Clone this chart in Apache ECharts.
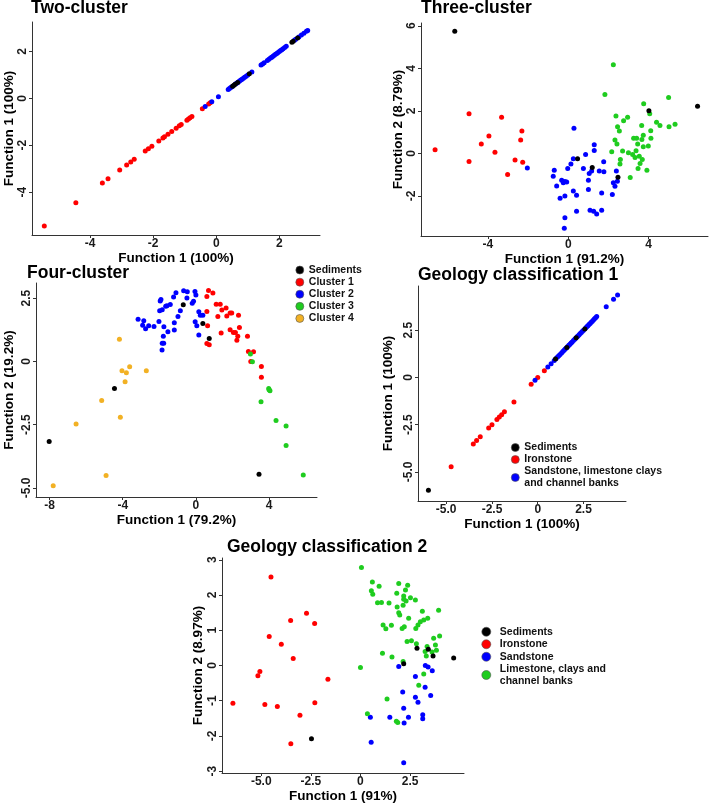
<!DOCTYPE html>
<html>
<head>
<meta charset="utf-8">
<script src="https://cdn.jsdelivr.net/npm/echarts@6/dist/echarts.min.js"></script>
<style>html,body{margin:0;padding:0;background:#fff}#c{width:711px;height:804px}</style>
</head>
<body>
<div id="c"></div>
<script>
// ---------- Panel 1: Two-cluster (Function 1 vs Function 1) ----------
const twoRed = [-5.45,-4.45,-3.61,-3.43,-3.06,-2.84,-2.71,-2.60,-2.25,-2.15,-2.04,-1.82,-1.69,-1.64,-1.53,-1.41,-1.27,-1.17,-1.11,-0.93,-0.88,-0.83,-0.77,-0.44,-0.24,-0.19];
const twoBlue = [-0.35,-0.14,0.07,0.38,0.42,0.46,0.50,0.62,0.66,0.70,0.74,0.78,0.82,0.86,0.90,0.95,1.00,1.13,1.42,1.47,1.52,1.62,1.67,1.72,1.76,1.80,1.84,1.88,1.92,1.96,2.00,2.04,2.08,2.12,2.17,2.22,2.48,2.52,2.62,2.70,2.78,2.86,2.90];
const twoBlack = [0.52,0.56,0.60,0.68,1.05,2.40,2.44,2.58];

// ---------- Panel 2: Three-cluster ----------
const threeBlack = [[-5.65,5.74],[0.46,-0.25],[1.19,-0.66],[2.47,-1.12],[4.01,2.01],[6.43,2.22]];
const threeRed = [[-6.63,0.17],[-4.94,1.86],[-4.94,-0.38],[-4.33,0.44],[-3.95,0.82],[-3.65,0.05],[-3.32,1.70],[-3.02,-0.99],[-2.65,-0.31],[-2.37,0.63],[-2.31,1.05],[-2.27,-0.41]];
const threeBlue = [[-2.04,-0.68],[0.28,1.18],[-0.70,-0.79],[-0.75,-1.07],[-0.58,-1.53],[-0.41,-2.11],[-0.33,-1.26],[-0.25,-1.38],[-0.17,-1.32],[-0.08,-1.34],[-0.03,-0.71],[0.13,-0.50],[0.25,-0.25],[-0.17,-2.00],[-0.17,-3.02],[-0.20,-3.51],[0.25,-1.76],[0.41,-1.97],[0.41,-2.72],[0.86,-0.05],[0.75,-0.71],[1.00,-1.26],[1.04,-0.94],[1.16,-0.83],[1.29,0.41],[1.29,0.14],[1.00,-1.70],[1.08,-2.67],[1.26,-2.72],[1.41,-2.85],[1.54,-0.83],[1.66,-1.86],[1.66,-2.67],[1.76,-0.39],[1.77,-0.86],[2.19,-1.93],[2.24,-1.38],[2.32,-1.54],[2.39,-0.83],[2.44,-1.31]];
const threeGreen = [[2.24,4.17],[1.82,2.77],[2.16,0.08],[2.32,0.63],[2.37,1.76],[2.42,0.44],[2.45,1.26],[2.54,1.05],[2.57,-0.50],[2.59,-0.28],[2.75,1.54],[2.70,0.11],[2.95,1.70],[2.99,0.03],[3.08,-1.13],[3.20,-0.05],[3.25,0.71],[3.32,-0.19],[3.37,0.13],[3.40,0.71],[3.45,0.44],[3.47,-0.71],[3.53,-0.13],[3.57,-0.47],[3.65,1.31],[3.66,0.66],[3.75,2.33],[3.73,0.86],[3.73,0.31],[3.68,-0.28],[3.91,-0.79],[3.98,0.35],[4.05,1.86],[4.10,1.07],[4.11,0.71],[4.39,1.46],[4.56,1.31],[4.99,2.63],[5.01,1.26],[5.31,1.37]];

// ---------- Panel 3: Four-cluster ----------
const fourBlack = [[-8.02,-3.17],[-4.45,-1.07],[-0.69,2.24],[0.38,1.50],[0.73,0.91],[3.45,-4.46]];
const fourC1 = [[0.60,2.57],[0.69,2.80],[0.93,2.70],[0.60,1.97],[0.64,1.41],[0.60,0.71],[0.73,0.66],[1.11,2.26],[1.20,1.78],[1.33,2.26],[1.38,1.12],[1.42,2.03],[1.65,2.11],[1.69,1.80],[1.87,1.91],[1.96,1.91],[2.33,1.83],[2.38,1.34],[1.87,1.25],[2.05,1.14],[2.16,1.14],[2.24,0.84],[2.29,0.99],[2.82,0.99],[2.87,0.39],[3.15,0.38],[3.00,0.00],[3.58,-0.20],[3.58,-0.63]];
const fourC2 = [[-3.16,1.67],[-2.91,1.43],[-2.85,1.61],[-2.75,1.29],[-2.58,1.41],[-2.29,1.38],[-2.02,1.58],[-1.98,2.00],[-1.95,2.39],[-1.91,2.45],[-1.84,2.04],[-1.75,1.37],[-1.78,0.99],[-1.84,0.72],[-1.85,0.45],[-1.76,0.72],[-1.65,2.18],[-1.58,2.20],[-1.53,1.17],[-1.40,2.25],[-1.22,2.55],[-1.18,1.53],[-1.18,1.24],[-1.09,2.71],[-0.98,1.78],[-0.85,2.00],[-0.67,2.79],[-0.49,2.51],[-0.47,2.75],[-0.20,2.30],[-0.13,2.38],[-0.05,2.76],[0.00,2.63],[-0.04,1.57],[0.05,1.41],[0.16,1.96],[0.16,1.04],[0.24,1.83],[0.38,1.83]];
const fourC3 = [[2.98,0.29],[3.09,-0.01],[3.98,-1.07],[4.05,-1.16],[4.00,-1.12],[3.56,-1.59],[4.38,-2.34],[4.93,-2.55],[4.93,-3.32],[5.87,-4.49]];
const fourC4 = [[-7.80,-4.92],[-6.55,-2.47],[-5.15,-1.55],[-4.91,-4.51],[-4.18,0.88],[-4.13,-2.21],[-4.04,-0.37],[-3.87,-0.80],[-3.80,-0.45],[-3.62,-0.21],[-2.71,-0.37]];

// ---------- Panel 4: Geology classification 1 (Function 1 vs Function 1) ----------
const geo1Black = [-5.97,0.97,1.59,2.10,2.57];
const geo1Red = [-4.73,-3.52,-3.34,-3.14,-2.68,-2.50,-2.23,-2.10,-1.97,-1.82,-1.30,-0.36,0.00,0.36];
const geo1Blue = [-0.15,0.55,0.73,0.90,1.00,1.08,1.15,1.22,1.30,1.37,1.44,1.50,1.56,1.64,1.70,1.76,1.82,1.88,1.95,2.02,2.06,2.15,2.20,2.26,2.32,2.38,2.44,2.50,2.62,2.68,2.74,2.80,2.86,2.92,2.98,3.04,3.10,3.16,3.22,3.74,4.14,4.36];

// ---------- Panel 5: Geology classification 2 ----------
const geo2Black = [[-2.47,-2.08],[2.18,0.05],[2.85,0.49],[3.42,0.46],[3.66,0.27],[4.70,0.21]];
const geo2Red = [[-6.43,-1.07],[-5.17,-0.29],[-5.07,-0.17],[-4.82,-1.11],[-4.60,0.82],[-4.51,2.51],[-4.19,-1.16],[-3.99,0.60],[-3.52,1.28],[-3.39,0.20],[-3.51,-2.22],[-3.05,-1.41],[-2.72,1.48],[-2.31,1.19],[-2.30,-1.06],[-1.64,-0.39]];
const geo2Blue = [[0.50,-1.47],[0.54,-2.18],[1.48,-1.47],[1.93,-0.03],[2.13,-0.75],[2.18,-1.21],[2.20,-1.63],[2.42,-1.47],[2.18,-2.76],[2.77,-0.31],[2.77,-0.90],[2.90,-1.04],[3.14,-1.40],[3.14,-1.51],[3.26,-0.62],[3.27,0.00],[3.41,-0.04],[3.54,-0.85],[3.62,-0.15]];
const geo2Green = [[0.05,2.78],[0.00,-0.06],[0.35,-1.37],[0.60,2.37],[0.55,2.12],[0.62,2.02],[0.94,2.25],[0.86,1.78],[1.06,1.79],[1.14,1.15],[1.28,1.04],[1.44,1.77],[1.56,1.14],[1.11,0.35],[1.59,0.24],[1.34,-0.95],[1.83,2.05],[1.93,2.33],[1.85,1.66],[1.93,1.50],[1.98,1.43],[2.10,1.05],[2.15,1.71],[2.18,1.97],[2.18,1.88],[2.27,2.14],[2.30,1.83],[2.38,2.28],[2.43,1.34],[2.52,1.92],[2.21,1.10],[2.35,0.68],[2.57,0.70],[2.77,1.86],[2.82,0.62],[2.79,1.05],[2.90,1.15],[3.02,1.24],[3.12,1.54],[3.19,1.29],[3.39,1.34],[2.94,-0.56],[3.19,-0.24],[2.15,0.11],[1.81,-1.58],[1.88,-1.62],[3.26,0.40],[3.36,0.54],[3.61,0.38],[3.69,0.77],[3.78,0.58],[3.83,0.43],[3.94,1.57],[3.99,0.84],[3.32,0.27]];

// ---------- tick labels ----------
const ticks1x = [-4,-2,0,2], ticks1y = [-4,-2,0,2];
const ticks2x = [-4,0,4], ticks2y = [-2,0,2,4,6];
const ticks3x = [-8,-4,0,4], ticks3y = [-5,-2.5,0,2.5];
const ticks4x = [-5,-2.5,0,2.5], ticks4y = [-5,-2.5,0,2.5];
const ticks5x = [-5,-2.5,0,2.5], ticks5y = [-3,-2,-1,0,1,2,3];

const RED = '#ff0000', BLUE = '#0000ff', GREEN = '#1fcc1f', BLACK = '#000000', ORANGE = '#f2b124';
const FONT = '"Liberation Sans", Arial, sans-serif';

const grids = [
  {left: 32, top: 22, width: 288, height: 213},
  {left: 421, top: 23, width: 287, height: 213},
  {left: 36, top: 283, width: 281, height: 214},
  {left: 418, top: 286, width: 208, height: 215},
  {left: 222, top: 558, width: 242, height: 215}
];
const fmtInt = v => String(v);
const fmtDec = v => v === 0 ? '0' : v.toFixed(1);

function axis(dim, gi, min, max, ticks, fmt, name, gap) {
  return {
    type: 'value', gridIndex: gi, min: min, max: max,
    name: name, nameLocation: 'middle', nameGap: gap,
    nameTextStyle: {fontFamily: FONT, fontWeight: 'bold', fontSize: 13.5, color: '#000'},
    axisLine: {show: true, onZero: false, lineStyle: {color: '#333', width: 1}},
    axisTick: {show: true, length: 3, customValues: ticks, lineStyle: {color: '#333'}},
    axisLabel: {customValues: ticks, formatter: fmt, rotate: dim === 'y' ? 90 : 0, margin: 3,
      fontFamily: FONT, fontWeight: 'bold', fontSize: 12, color: '#1a1a1a'},
    splitLine: {show: false}
  };
}

const xAxes = [
  axis('x', 0, -5.84, 3.29, ticks1x, fmtInt, 'Function 1 (100%)', 12),
  axis('x', 1, -7.33, 6.95, ticks2x, fmtInt, 'Function 1 (91.2%)', 12),
  axis('x', 2, -8.74, 6.62, ticks3x, fmtInt, 'Function 1 (79.2%)', 13),
  axis('x', 3, -6.54, 4.82, ticks4x, fmtDec, 'Function 1 (100%)', 13),
  axis('x', 4, -6.98, 5.22, ticks5x, fmtDec, 'Function 1 (91%)', 12)
];
const yAxes = [
  axis('y', 0, -5.83, 3.26, ticks1y, fmtInt, 'Function 1 (100%)', 15),
  axis('y', 1, -3.88, 6.13, ticks2y, fmtInt, 'Function 2 (8.79%)', 16),
  axis('y', 2, -5.36, 3.10, ticks3y, fmtDec, 'Function 2 (19.2%)', 20),
  axis('y', 3, -6.54, 4.84, ticks4y, fmtDec, 'Function 1 (100%)', 23),
  axis('y', 4, -3.05, 3.05, ticks5y, fmtInt, 'Function 2 (8.97%)', 17)
];

function sc(name, data, color, gi) {
  return {type: 'scatter', name: name, data: data, xAxisIndex: gi, yAxisIndex: gi,
    symbol: 'circle', symbolSize: 5, itemStyle: {color: color, opacity: 1}, emphasis: {disabled: true}};
}
const same = arr => arr.map(v => [v, v]);

const N_SAND1 = 'Sandstone, limestone clays\nand channel banks';
const N_LIME = 'Limestone, clays and\nchannel banks';

const series = [
  sc('Ironstone', same(twoRed), RED, 0),
  sc('Sandstone', same(twoBlue), BLUE, 0),
  sc('Sediments', same(twoBlack), BLACK, 0),

  sc('Cluster 1', threeRed, RED, 1),
  sc('Cluster 2', threeBlue, BLUE, 1),
  sc('Cluster 3', threeGreen, GREEN, 1),
  sc('Sediments', threeBlack, BLACK, 1),

  sc('Cluster 1', fourC1, RED, 2),
  sc('Cluster 2', fourC2, BLUE, 2),
  sc('Cluster 3', fourC3, GREEN, 2),
  sc('Cluster 4', fourC4, ORANGE, 2),
  sc('Sediments', fourBlack, BLACK, 2),

  sc('Ironstone', same(geo1Red), RED, 3),
  sc(N_SAND1, same(geo1Blue), BLUE, 3),
  sc('Sediments', same(geo1Black), BLACK, 3),

  sc('Ironstone', geo2Red, RED, 4),
  sc('Sandstone', geo2Blue, BLUE, 4),
  sc(N_LIME, geo2Green, GREEN, 4),
  sc('Sediments', geo2Black, BLACK, 4)
];

const titleStyle = {fontFamily: FONT, fontWeight: 'bold', fontSize: 17.5, color: '#000'};
const titles = [
  {text: 'Two-cluster', left: 31, top: -1},
  {text: 'Three-cluster', left: 421, top: -1},
  {text: 'Four-cluster', left: 27, top: 264},
  {text: 'Geology classification 1', left: 418, top: 266},
  {text: 'Geology classification 2', left: 227, top: 538}
].map(t => Object.assign({padding: 0, textStyle: titleStyle}, t));

function leg(data, left, top, size, extra) {
  return Object.assign({
    orient: 'vertical', left: left, top: top, padding: 0, itemGap: 0,
    itemWidth: size, itemHeight: size, icon: 'circle', selectedMode: false,
    itemStyle: {borderColor: '#555', borderWidth: 0.6, opacity: 1},
    textStyle: {fontFamily: FONT, fontWeight: 'bold', fontSize: 10.5, lineHeight: 12, color: '#111'},
    data: data
  }, extra || {});
}
const legends = [
  leg(['Sediments','Cluster 1','Cluster 2','Cluster 3','Cluster 4'], 295.5, 264, 8, {textStyle: {fontFamily: FONT, fontWeight: 'bold', fontSize: 10.5, lineHeight: 12.1, color: '#111'}}),
  leg(['Sediments','Ironstone', N_SAND1], 511, 441.5, 8),
  leg(['Sediments','Ironstone','Sandstone', N_LIME], 481.5, 626, 9, {itemGap: 1, textStyle: {fontFamily: FONT, fontWeight: 'bold', fontSize: 10.5, lineHeight: 11.5, color: '#111', padding: [0,0,0,4]}})
];

const chart = echarts.init(document.getElementById('c'), null, {renderer: 'canvas'});
chart.setOption({
  animation: false,
  backgroundColor: '#fff',
  title: titles,
  legend: legends,
  grid: grids,
  xAxis: xAxes,
  yAxis: yAxes,
  series: series
});
</script>
</body>
</html>
